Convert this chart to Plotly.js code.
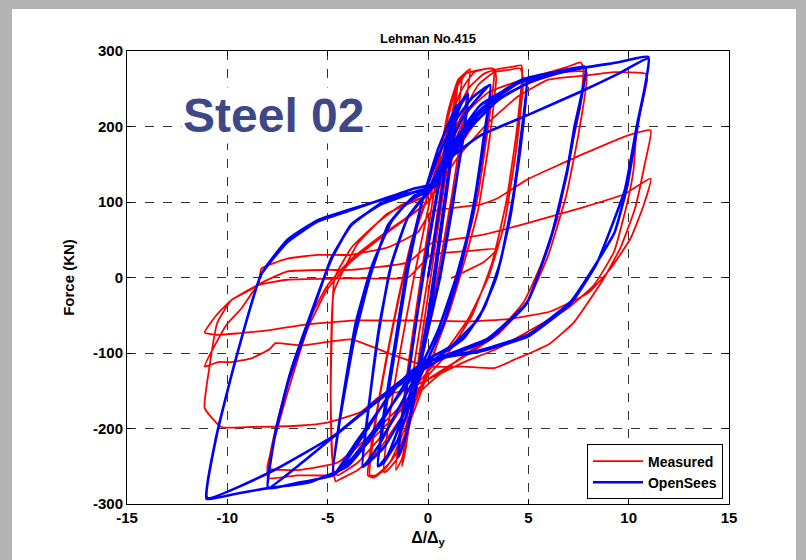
<!DOCTYPE html>
<html>
<head>
<meta charset="utf-8">
<script src="https://cdn.plot.ly/plotly-3.0.1.min.js"></script>
<style>
  html, body { margin: 0; padding: 0; background: #b3b3b3; width: 806px; height: 560px; overflow: hidden; }
  #plot { position: absolute; left: 12px; top: 9px; width: 784px; height: 551px; background: #ffffff; }
</style>
</head>
<body>
<div id="plot"></div>
<script>
// ---- Data (displacement ductility, force kN) ----
const chartTitle = "Lehman No.415";
const xTicks = [-15, -10, -5, 0, 5, 10, 15];
const yTicks = [-300, -200, -100, 0, 100, 200, 300];

// Measured (red): small cycles
const measuredSmall = [
  [0,0],[0.5,70],[1.0,170],[1.4,250],[1.5,262],[1.3,215],[0.8,120],[0.3,30],[-0.2,-60],[-0.7,-150],[-1.1,-225],[-1.3,-250],
  [-1.1,-200],[-0.6,-100],[0,0],[0.6,110],[1.1,200],[1.5,258],[1.7,266],[1.5,220],[1.0,120],[0.4,10],[-0.2,-90],[-0.8,-180],
  [-1.3,-240],[-1.6,-255],[-1.4,-200],[-0.9,-100],[-0.3,10],[0.4,130],[1.0,220],[1.5,262],[1.9,272],[2.1,276],[1.8,215],
  [1.2,110],[0.6,20],[0,-70],[-0.7,-160],[-1.4,-235],[-2.0,-255],[-2.2,-258],[-2.0,-200],[-1.4,-100],[-0.7,0],[0,90],
  [0.7,180],[1.4,250],[1.9,270],[2.4,274],[2.8,276],[3.2,277],[3.3,270],[3.0,200],[2.5,110],[1.8,30],[1.0,-40],[0.2,-110],
  [-0.6,-170],[-1.5,-230],[-2.2,-255],[-2.7,-265],[-3.0,-262],[-2.7,-200],[-2.1,-110],[-1.5,-30],[-0.8,50],[0,110],[0.8,180],
  [1.6,245],[2.3,272],[3.0,277],[3.3,276],[3.4,265],[3.1,190],[2.5,90],[1.8,20],[1.0,-50],[0,-120],[-1.0,-190],[-1.9,-245],
  [-2.6,-262],[-2.9,-262],[-2.6,-190],[-2.0,-100],[-1.3,-10],[-0.5,70],[0.3,130]
];
// Measured: cycles to +/-5
const measured5 = [
  [1.2,200],[2.0,250],[2.8,270],[3.5,276],[4.2,279],[4.65,281],[4.7,270],[4.4,190],[3.9,100],[3.2,20],[2.2,-50],[1.0,-100],
  [0,-130],[-1.2,-180],[-2.5,-230],[-3.5,-255],[-4.3,-266],[-4.6,-270],[-4.8,-230],[-4.85,-150],[-4.8,-81],[-4.66,-1],
  [-3.8,40],[-2.67,69],[-1.34,96],[0,109],[0.8,150],[1.6,210],[2.5,255],[3.3,272],[4.0,275],[4.6,277],[4.75,262],[4.4,170],
  [3.8,70],[3.0,0],[2.0,-55],[0.8,-100],[-0.5,-140],[-2.0,-200],[-3.5,-245],[-4.5,-262],[-4.7,-258],[-4.85,-150],[-4.7,-20],
  [-3.5,45],[-2.0,85],[0,110]
];
// Measured: cycles to +/-8
const measured8 = [
  [1.0,160],[2.0,220],[3.0,245],[4.5,260],[5.5,268],[6.45,275],[6.95,279],[7.6,285],[7.75,278],[7.6,228],[7.1,166],[6.45,78],
  [5.62,16],[4.78,-32],[3.47,-72],[1.8,-103],[0.15,-138],[-1.5,-180],[-3.0,-220],[-4.33,-255],[-5.0,-262],[-6.5,-262],
  [-7.97,-266],[-8.0,-250],[-7.65,-213],[-6.98,-151],[-6.0,-68],[-5.0,-15],[-3.83,21],[-2.0,60],[0,100],
  [1.0,150],[2.5,210],[4.0,245],[5.5,262],[6.8,272],[7.9,272],[7.5,190],[6.9,110],[6.0,30],[5.0,-30],[3.5,-75],[1.8,-105],
  [0,-135],[-2.5,-200],[-4.5,-245],[-6.5,-255],[-7.9,-253],[-7.9,-240],[-7.5,-190],[-6.8,-120],[-6.0,-60],[-5.0,-10],
  [-3.8,25],[-2.0,62],[0,100]
];
// Measured: cycles to +/-11 (strength degrading)
const measured11 = [
  [1.5,160],[3.0,205],[4.5,240],[6.0,262],[7.95,268],[9.27,272],[10.84,270],[10.93,263],[10.4,197],[10.25,144],[9.94,100],
  [9.27,34],[8.27,-10],[6.95,-41],[4.96,-72],[3.47,-94],[1.8,-112],[0,-135],[-1.2,-150],[-2.34,-156],[-3.33,-178],
  [-5.16,-193],[-6.3,-196],[-8.8,-198],[-10.3,-198],[-11.13,-173],[-10.9,-120],[-10.5,-60],[-9.8,-30],[-8.47,-10],
  [-8.3,12],[-7.0,25],[-5.5,30],[-3.83,30],[-2.0,40],[-0.5,60],[0.15,87],[2.64,97],[3.47,105],[4.96,130],[6.1,144],
  [7.6,162],[9.94,188],[11.1,195],[10.8,150],[10.3,90],[9.6,40],[8.77,-1],[7.28,-59],[6.1,-87],[5.1,-100],[4.46,-107],
  [3.3,-120],[1.8,-118],[0,-118],[-2.0,-100],[-3.83,-82],[-6.3,-90],[-7.6,-87],[-7.9,-95],[-8.8,-107],[-9.8,-112],
  [-10.46,-112],[-11.13,-118],[-10.05,-63],[-9.3,-41],[-8.47,-10],[-7.0,8],[-5.0,10],[-3.83,10],[-1.0,20],[0.15,45],
  [2.64,56],[4.96,72],[7.6,92],[9.75,110],[11.1,131],[10.75,96],[10.1,52],[9.1,12],[8.0,-20],[6.1,-45],[4.0,-55],
  [2.0,-58],[0,-57],[-2.0,-57],[-3.83,-57],[-6.3,-63],[-7.97,-70],[-9.47,-74],[-10.46,-76],[-11.13,-73],[-10.55,-50],
  [-9.8,-30],[-8.47,-10],[-7.0,-3],[-3.83,-1],[-1.0,0],[0.15,30],[2.0,35],[3.47,38],[2.8,21],[1.14,-1]
];

// OpenSees (blue): small cycles
const openseesSmall = [
  [0,0],[0.5,80],[1.0,170],[1.3,215],[1.45,228],[1.2,170],[0.7,70],[0.2,-30],[-0.4,-120],[-1.0,-200],[-1.4,-232],[-1.5,-238],
  [-1.25,-180],[-0.7,-80],[-0.1,30],[0.5,120],[1.0,190],[1.4,228],[1.2,175],[0.6,60],[0,-50],[-0.6,-140],[-1.1,-210],
  [-1.5,-238],[-1.2,-170],[-0.6,-60],[0,40],[0.6,130],[1.2,200],[1.7,232],[2.0,242],[1.7,180],[1.2,90],[0.6,0],[0,-70],
  [-0.7,-150],[-1.5,-215],[-2.2,-245],[-2.5,-250],[-2.2,-190],[-1.6,-90],[-1.0,10],[-0.3,100],[0.5,170],[1.3,220],
  [2.0,243],[1.7,175],[1.1,80],[0.5,-10],[-0.3,-100],[-1.2,-180],[-2.0,-235],[-2.5,-250],[-2.2,-180],[-1.6,-80],
  [-1.0,20],[-0.3,100],[0.5,160],[1.3,205],[2.2,238],[3.1,255],[2.8,190],[2.3,100],[1.6,10],[0.8,-60],[-0.2,-120],
  [-1.2,-180],[-2.2,-225],[-3.25,-251],[-3.0,-180],[-2.5,-80],[-1.9,10],[-1.0,80],[0,115],[0.8,160],[1.8,215],[3.1,255],
  [2.8,180],[2.2,80],[1.4,0],[0.5,-70],[-0.5,-125],[-1.5,-175],[-2.4,-220],[-3.25,-251]
];
// OpenSees: cycles to +/-5
const opensees5 = [
  [-2.9,-160],[-2.4,-60],[-1.8,20],[-1.0,80],[0,112],[0.8,150],[1.8,195],[3.0,232],[4.0,252],[4.9,264],[4.6,180],[4.2,100],
  [3.6,20],[2.8,-40],[1.8,-80],[0.5,-105],[-0.7,-125],[-1.8,-150],[-3.0,-200],[-4.0,-240],[-4.74,-262],[-4.4,-190],
  [-3.67,-81],[-2.9,0],[-2.0,69],[-1.0,100],[0.3,120],[1.2,165],[2.5,215],[3.8,245],[4.9,264],[4.6,170],[4.1,80],[3.4,0],
  [2.5,-55],[1.2,-90],[0,-108],[-1.0,-128],[-2.0,-160],[-3.5,-215],[-4.74,-262],[-4.3,-170],[-3.6,-60],[-2.8,15],
  [-1.8,75],[-0.7,108],[0.3,120]
];
// OpenSees: cycles to +/-8
const opensees8 = [
  [1.2,175],[2.6,222],[4.9,264],[6.5,273],[7.86,279],[7.3,200],[6.95,144],[6.2,60],[4.96,-32],[2.97,-81],[0.15,-111],
  [-1.0,-140],[-2.5,-195],[-3.8,-240],[-4.74,-262],[-6.5,-272],[-7.97,-279],[-7.65,-213],[-6.98,-140],[-6.05,-68],
  [-4.83,25],[-3.83,69],[-2.34,98],[-0.68,113],[0.3,120],[1.0,150],[2.0,195],[3.5,235],[5.0,258],[6.5,271],[7.86,279],
  [7.3,195],[6.9,135],[6.1,50],[4.9,-35],[3.0,-83],[0.5,-110],[-1.84,-150],[-4.66,-210],[-6.5,-250],[-7.97,-279],
  [-7.6,-205],[-6.9,-130],[-6.0,-60],[-4.8,25],[-3.83,70],[-2.34,97],[-0.68,113],[0.3,122]
];
// OpenSees: cycles to +/-11
const opensees11 = [
  [1.2,175],[2.6,228],[4.63,259],[7.6,277],[9.5,285],[10.98,292],[10.5,210],[9.9,118],[9.3,60],[8.44,21],[7.11,-32],
  [4.96,-76],[2.64,-96],[0.15,-109],[-1.0,-135],[-2.5,-200],[-4.0,-250],[-6.0,-272],[-7.97,-279],[-9.5,-286],[-11.04,-293],
  [-10.57,-213],[-9.66,-116],[-8.33,3],[-7.0,47],[-5.51,74],[-3.86,89],[-2.34,103],[-0.68,118],[0.31,124],[1.2,160],
  [2.6,188],[4.96,215],[7.6,246],[9.5,270],[11.0,290],[10.4,200],[9.8,115],[8.4,18],[7.1,-35],[5.0,-78],[2.6,-98],
  [0.1,-110],[-1.84,-147],[-4.66,-209],[-7.8,-257],[-11.0,-292],[-10.5,-205],[-9.6,-110],[-8.3,5],[-7.0,50],[-5.5,76],
  [-3.9,90],[-2.0,105],[0,118],[0.5,125]
];

const measuredPts = [].concat(measuredSmall, measured5, measured8, measured11);
const openseesPts = [].concat(openseesSmall, opensees5, opensees8, opensees11);

const font = "Liberation Sans, Arial, Helvetica, sans-serif";

const traces = [
  {
    x: measuredPts.map(p => p[0]), y: measuredPts.map(p => p[1]),
    type: "scatter", mode: "lines", name: "Measured",
    line: { color: "#ff0000", width: 1.8, shape: "spline", smoothing: 0.4 }
  },
  {
    x: openseesPts.map(p => p[0]), y: openseesPts.map(p => p[1]),
    type: "scatter", mode: "lines", name: "OpenSees",
    line: { color: "#0000ff", width: 2.6, shape: "spline", smoothing: 0.4 }
  }
];

const axisCommon = {
  showline: true, linecolor: "#000", linewidth: 1, mirror: "ticks",
  ticks: "inside", ticklen: 5, tickcolor: "#000", tickwidth: 1,
  showgrid: true, gridcolor: "#333", griddash: "dash", gridwidth: 1,
  zeroline: false,
  tickfont: { family: font, size: 15, color: "#000", weight: "bold" }
};

const layout = {
  width: 784, height: 551,
  margin: { l: 115, r: 67, t: 42, b: 56 },
  paper_bgcolor: "#ffffff", plot_bgcolor: "#ffffff",
  showlegend: true,
  title: {
    text: "<b>" + chartTitle + "</b>",
    font: { family: font, size: 13, color: "#000" },
    x: 0.5, xref: "paper", y: 1 - 29 / 551, yref: "container", yanchor: "middle"
  },
  xaxis: Object.assign({}, axisCommon, {
    range: [-15, 15], tickvals: xTicks, ticktext: xTicks.map(String),
    title: { text: "<b>Δ/Δ<sub>y</sub></b>", font: { family: font, size: 16, color: "#000" }, standoff: 6 }
  }),
  yaxis: Object.assign({}, axisCommon, {
    range: [-300, 300], tickvals: yTicks, ticktext: yTicks.map(String),
    title: { text: "<b>Force (KN)</b>", font: { family: font, size: 15, color: "#000" }, standoff: 14 }
  }),
  legend: {
    x: 0.99, y: 0.01, xanchor: "right", yanchor: "bottom",
    bgcolor: "#fff", bordercolor: "#000", borderwidth: 1,
    font: { family: font, size: 14, color: "#000", weight: "bold" },
    tracegroupgap: 0, itemwidth: 50
  },
  annotations: [{
    text: "<b>Steel 02</b>", x: -7.7, y: 214, xref: "x", yref: "y",
    showarrow: false, bgcolor: "#ffffff",
    font: { family: font, size: 48, color: "#3e4888" }
  }]
};

Plotly.newPlot("plot", traces, layout, { staticPlot: true, displayModeBar: false });
</script>
</body>
</html>
